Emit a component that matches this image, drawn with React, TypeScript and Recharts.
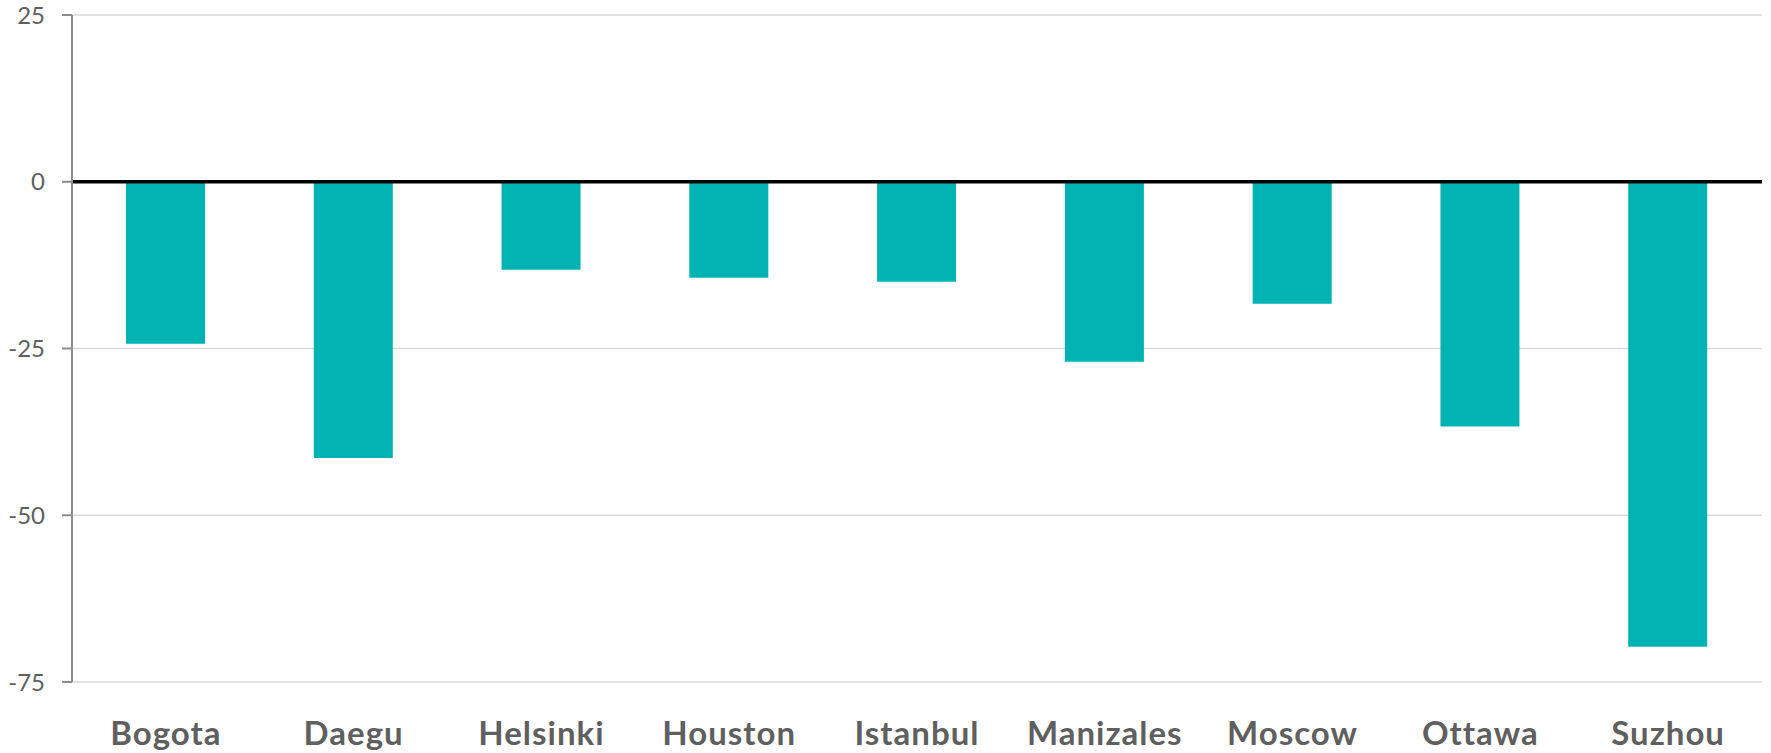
import React from "react";
import {
  BarChart,
  Bar,
  XAxis,
  YAxis,
  CartesianGrid,
  ReferenceLine,
} from "recharts";

// Change per city (same units as the value axis)
const cities = [
  "Bogota",
  "Daegu",
  "Helsinki",
  "Houston",
  "Istanbul",
  "Manizales",
  "Moscow",
  "Ottawa",
  "Suzhou",
];
const changes = [-24.3, -41.4, -13.2, -14.4, -15.0, -27.0, -18.3, -36.7, -69.7];
const yTicks = [-75, -50, -25, 0, 25];

const data = cities.map((city, i) => ({ city, change: changes[i] }));

const CityTick = (props: any) => {
  const { x, y, payload } = props;
  return (
    <text
      x={x}
      y={y}
      dy={63}
      textAnchor="middle"
      fill="#5f5f5f"
      fontFamily="Lato, 'Open Sans', sans-serif"
      fontWeight={700}
      fontSize={33}
      letterSpacing={1}
    >
      {payload.value}
    </text>
  );
};

export default function App() {
  return (
    <div style={{ position: "absolute", left: 0, top: 0, background: "#fff" }}>
      <BarChart
        width={1771}
        height={753}
        data={data}
        margin={{ top: 15, right: 9, bottom: 0, left: 0 }}
      >
        <CartesianGrid
          vertical={false}
          stroke="#d9d9d9"
          strokeWidth={1.5}
        />
        <XAxis
          dataKey="city"
          axisLine={false}
          tickLine={false}
          tickSize={0}
          tickMargin={0}
          height={71}
          tick={<CityTick />}
          interval={0}
        />
        <YAxis
          domain={[-75, 25]}
          ticks={yTicks}
          width={72}
          axisLine={{ stroke: "#8c8c8c", strokeWidth: 2 }}
          tickLine={{ stroke: "#8c8c8c", strokeWidth: 2 }}
          tickSize={10}
          tickMargin={17}
          tick={{
            fill: "#5f5f5f",
            fontSize: 24,
            fontFamily: "Lato, 'Open Sans', sans-serif",
          }}
          allowDataOverflow
        />
        <Bar
          dataKey="change"
          fill="#00B3B3"
          barSize={79}
          isAnimationActive={false}
        />
        <ReferenceLine y={0} stroke="#000" strokeWidth={3.5} />
      </BarChart>
    </div>
  );
}
